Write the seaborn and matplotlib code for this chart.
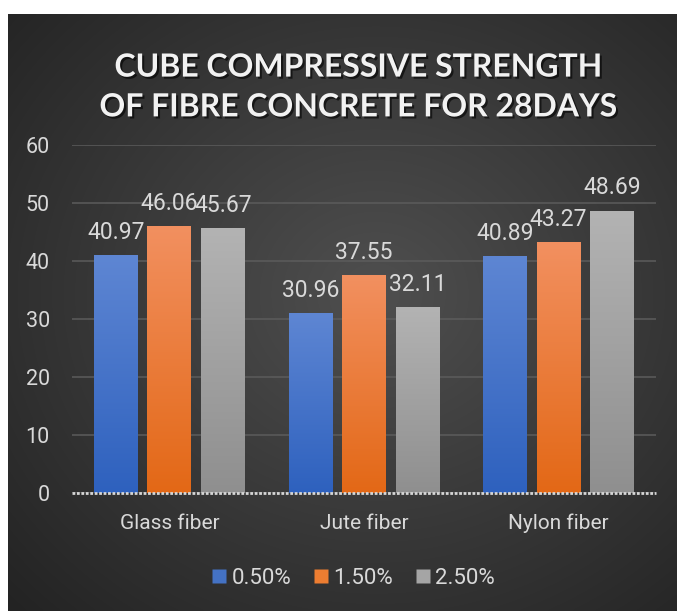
import numpy as np
import pandas as pd
import seaborn as sns
import matplotlib.pyplot as plt
import matplotlib.patheffects as pe
from matplotlib.colors import to_rgb
from matplotlib.lines import Line2D

# values
fibres = ["Glass fiber", "Jute fiber", "Nylon fiber"]
dosages = ["0.50%", "1.50%", "2.50%"]
strength_050 = [40.97, 30.96, 40.89]
strength_150 = [46.06, 37.55, 43.27]
strength_250 = [45.67, 32.11, 48.69]
y_ticks = [0, 10, 20, 30, 40, 50, 60]

title = "CUBE COMPRESSIVE STRENGTH\nOF FIBRE CONCRETE FOR 28DAYS"

base_colors = ["#4472c4", "#ed7d31", "#a5a5a5"]
top_colors = ["#5e86d3", "#f29060", "#b3b3b3"]
bottom_colors = ["#2e61be", "#e36816", "#8f8f8f"]
text_color = "#d9d9d9"

df = pd.DataFrame({
    "fibre": fibres * 3,
    "dosage": [d for d in dosages for _ in fibres],
    "strength": strength_050 + strength_150 + strength_250,
})

sns.set_theme(style="dark")
plt.rcParams["font.family"] = ["Roboto", "DejaVu Sans"]

W, H = 677, 611
fig = plt.figure(figsize=(W / 100, H / 100), dpi=100)
fig.patch.set_facecolor("white")

# dark radial-gradient panel
bg = fig.add_axes([8 / W, 0, (W - 8) / W, (H - 14) / H])
bg.set_axis_off()
yy, xx = np.mgrid[0:1:300j, 0:1:340j]
r = np.sqrt(((xx - 0.55) / 0.75) ** 2 + ((yy - 0.47) / 0.75) ** 2)
shade = np.clip(0.31 - 0.17 * r, 0.14, 0.31)
bg.imshow(np.dstack([shade] * 3), aspect="auto", extent=(0, 1, 0, 1), interpolation="bicubic")

ax = fig.add_axes([72 / W, (H - 493) / H, (656 - 72) / W, (493 - 145) / H])
ax.set_facecolor("none")

sns.barplot(data=df, x="fibre", y="strength", hue="dosage", hue_order=dosages,
            palette=base_colors, width=0.825, gap=0.18, errorbar=None,
            legend=False, ax=ax, zorder=3)

# gradient fill per bar
grad = np.linspace(0, 1, 256)[:, None]
for i, cont in enumerate(ax.containers):
    c_top = np.array(to_rgb(top_colors[i]))
    c_bot = np.array(to_rgb(bottom_colors[i]))
    img = c_top[None, None, :] * (1 - grad[..., None]) + c_bot[None, None, :] * grad[..., None]
    img = np.repeat(img, 2, axis=1)
    for bar in cont:
        x0, y0 = bar.get_x(), bar.get_y()
        w, h = bar.get_width(), bar.get_height()
        bar.set_edgecolor("none")
        im = ax.imshow(img, extent=(x0, x0 + w, y0, y0 + h), aspect="auto", zorder=4)
        im.set_clip_path(bar)
    ax.bar_label(cont, fmt="%.2f", padding=8, color=text_color, fontsize=16.5, zorder=5)

ax.set_xlim(-0.5, 2.5)
ax.set_ylim(0, 60)
ax.set_yticks(y_ticks)
ax.set_xlabel("")
ax.set_ylabel("")
ax.yaxis.grid(True, color="#5c5c5c", linewidth=1.1)
ax.xaxis.grid(False)
ax.set_axisbelow(True)
for s in ax.spines.values():
    s.set_visible(False)
ax.axhline(0, color="#d6d6d6", linewidth=2, linestyle=(0, (1, 0.6)), zorder=6, clip_on=False)
ax.tick_params(axis="y", length=0, pad=16, labelsize=15.5, labelcolor=text_color)
ax.tick_params(axis="x", length=0, pad=15, labelsize=15, labelcolor=text_color)

fig.text(359 / W, 1 - 87 / H, title, ha="center", va="center", color="#f2f2f2",
         fontsize=23, fontweight="bold", family=["Lato", "DejaVu Sans"],
         linespacing=1.45,
         path_effects=[pe.withSimplePatchShadow(offset=(1.5, -1.5), shadow_rgbFace="black", alpha=0.6)])

handles = [Line2D([], [], marker="s", linestyle="none", markersize=10,
                  markerfacecolor=c, markeredgecolor="none") for c in base_colors]
fig.legend(handles, dosages, loc="center", bbox_to_anchor=(352 / W, 1 - 578 / H),
           ncol=3, frameon=False, fontsize=16, labelcolor=text_color,
           handletextpad=0.1, columnspacing=0.9, handlelength=0.9)

fig.savefig("out.png", dpi=100, facecolor=fig.get_facecolor())
